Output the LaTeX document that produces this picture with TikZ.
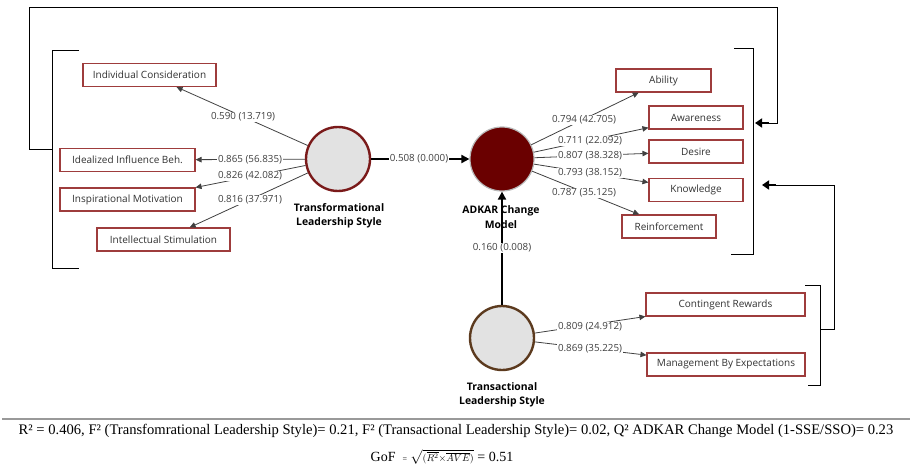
\documentclass[tikz,border=0pt]{standalone}
\usepackage{fontspec}
\setmainfont{Liberation Serif}
\newfontfamily\diag{Open Sans}
\usetikzlibrary{arrows.meta,calc}
\definecolor{boxred}{RGB}{158,60,60}
\definecolor{tlred}{RGB}{122,26,26}
\definecolor{adkar}{RGB}{106,0,0}
\definecolor{trbrown}{RGB}{92,58,30}
\definecolor{cgray}{RGB}{226,226,226}
\definecolor{lgray}{RGB}{64,64,64}
\definecolor{txt}{RGB}{50,50,50}
\begin{document}
\begin{tikzpicture}[x=1pt,y=-1pt,
  ind/.style={draw=boxred, line width=1.1pt, fill=white, text=txt,
    font=\diag\fontsize{10}{11}\selectfont, minimum height=23pt, inner sep=0pt},
  lat/.style={circle, minimum size=64pt, inner sep=0pt},
  lbl/.style={fill=white, inner sep=1pt, text=lgray, font=\diag\fontsize{9.8}{11}\selectfont},
  latlbl/.style={align=center, text=black, font=\diag\bfseries\fontsize{10.4}{14.5}\selectfont},
  load/.style={draw=lgray, line width=0.8pt, -{Triangle[length=6pt,width=5.5pt]}},
  path/.style={draw=black, line width=1.8pt, -{Triangle[length=8pt,width=8pt]}},
  brk/.style={draw=black, line width=0.9pt},
  loop/.style={draw=black, line width=0.9pt},
  looparrow/.style={draw=black, line width=2pt, -{Triangle[length=7pt,width=9pt]}}
]
\useasboundingbox (0,0) rectangle (912,468);

% latent variables
\node[lat, fill=cgray, draw=tlred, line width=2.4pt] (TL) at (338,159) {};
\node[lat, fill=adkar, draw=gray!55, line width=1.2pt] (AD) at (502,159) {};
\node[lat, fill=cgray, draw=trbrown, line width=2.4pt] (TR) at (502,338) {};

\node[latlbl] (TLl) at (339,216) {Transformational\\Leadership Style};
\node[latlbl] (ADl) at (501,217) {ADKAR Change\\Model};
\node[latlbl] (TRl) at (502,395) {Transactional\\Leadership Style};

% indicators
\node[ind, minimum width=133pt] (IC) at (149.5,75) {Individual Consideration};
\node[ind, minimum width=135pt] (II) at (127.5,160) {Idealized Influence Beh.};
\node[ind, minimum width=135pt] (IM) at (127.5,199.5) {Inspirational Motivation};
\node[ind, minimum width=133pt] (IS) at (163.5,239.5) {Intellectual Stimulation};

\node[ind, minimum width=95pt] (AB) at (663.5,80.5) {Ability};
\node[ind, minimum width=94pt] (AW) at (696,117.5) {Awareness};
\node[ind, minimum width=94pt] (DE) at (696,151.5) {Desire};
\node[ind, minimum width=94pt] (KN) at (696,190) {Knowledge};
\node[ind, minimum width=94pt] (RE) at (669,226.5) {Reinforcement};

\node[ind, minimum width=159pt] (CR) at (725.5,304.5) {Contingent Rewards};
\node[ind, minimum width=158pt] (MB) at (726,364.5) {Management By Expectations};

% loadings
\draw[load] (TL) -- (IC);
\draw[load] (TL) -- (II);
\draw[load] (TL) -- (IM.north east);
\draw[load] (TL) -- (IS);
\draw[load] (AD) -- (AB);
\draw[load] (AD) -- (AW);
\draw[load] (AD) -- (DE);
\draw[load] (AD) -- (KN);
\draw[load] (AD) -- (RE);
\draw[load] (TR) -- (CR);
\draw[load] (TR) -- (MB);

\node[lbl] at (243,117) {0.590 (13.719)};
\node[lbl] at (250,160) {0.865 (56.835)};
\node[lbl] at (250,176) {0.826 (42.082)};
\node[lbl] at (250,200) {0.816 (37.971)};
\node[lbl] at (584,120) {0.794 (42.705)};
\node[lbl] at (590,141) {0.711 (22.092)};
\node[lbl] at (590,156) {0.807 (38.328)};
\node[lbl] at (590,173) {0.793 (38.152)};
\node[lbl] at (584,193) {0.787 (35.125)};
\node[lbl] at (590,327) {0.809 (24.912)};
\node[lbl] at (590,349) {0.869 (35.225)};

% structural paths
\draw[path] (TL) -- (AD);
\node[lbl] at (419,159) {0.508 (0.000)};
\draw[path] (TR) -- (AD);
\node[lbl] at (502,248) {0.160 (0.008)};

% brackets
\coordinate (lb1) at (79,50);
\coordinate (lb2) at (52,50);
\coordinate (lb3) at (52,268);
\coordinate (lb4) at (79,268);
\coordinate (lbm) at (52,149);
\draw[brk] (lb1) -- (lb2) -- (lb3) -- (lb4);

\coordinate (rb1) at (734,48);
\coordinate (rb2) at (753,48);
\coordinate (rb3) at (753,254);
\coordinate (rb4) at (731,254);
\draw[brk] (rb1) -- (rb2) -- (rb3) -- (rb4);

\coordinate (tb1) at (805,285);
\coordinate (tb2) at (820,285);
\coordinate (tb3) at (820,385);
\coordinate (tb4) at (808,385);
\coordinate (tbm) at (820,329);
\draw[brk] (tb1) -- (tb2) -- (tb3) -- (tb4);

% loops
\coordinate (ta) at (29,149);
\coordinate (tbb) at (29,7);
\coordinate (tc) at (777,7);
\coordinate (td) at (777,123);
\coordinate (tf) at (769,123);
\coordinate (te) at (755,123);
\draw[loop] (lbm) -- (ta) -- (tbb) -- (tc) -- (td) -- (tf);
\draw[looparrow] (tf) -- (te);

\coordinate (la) at (834,329);
\coordinate (lb) at (834,185);
\coordinate (ld) at (776,185);
\coordinate (lc) at (762,185);
\draw[loop] (tbm) -- (la) -- (lb) -- (ld);
\draw[looparrow] (ld) -- (lc);

% separator and footer
\coordinate (s1) at (2,419);
\coordinate (s2) at (910,419);
\draw[draw=gray!80, line width=1.5pt] (s1) -- (s2);

\node[font=\fontsize{14.6}{15}\selectfont, inner sep=0pt] (f1) at (456,431)
  {R² = 0.406, F² (Transfomrational Leadership Style)= 0.21, F² (Transactional Leadership Style)= 0.02, Q² ADKAR Change Model (1-SSE/SSO)= 0.23};
\node[font=\fontsize{14}{15}\selectfont, inner sep=0pt] (f2) at (442,457)
  {GoF \ {\fontsize{8}{9}\selectfont =} $\scriptstyle\sqrt{(\overline{R^{2}}\times\overline{AVE})}$ = 0.51};
\end{tikzpicture}
\end{document}
